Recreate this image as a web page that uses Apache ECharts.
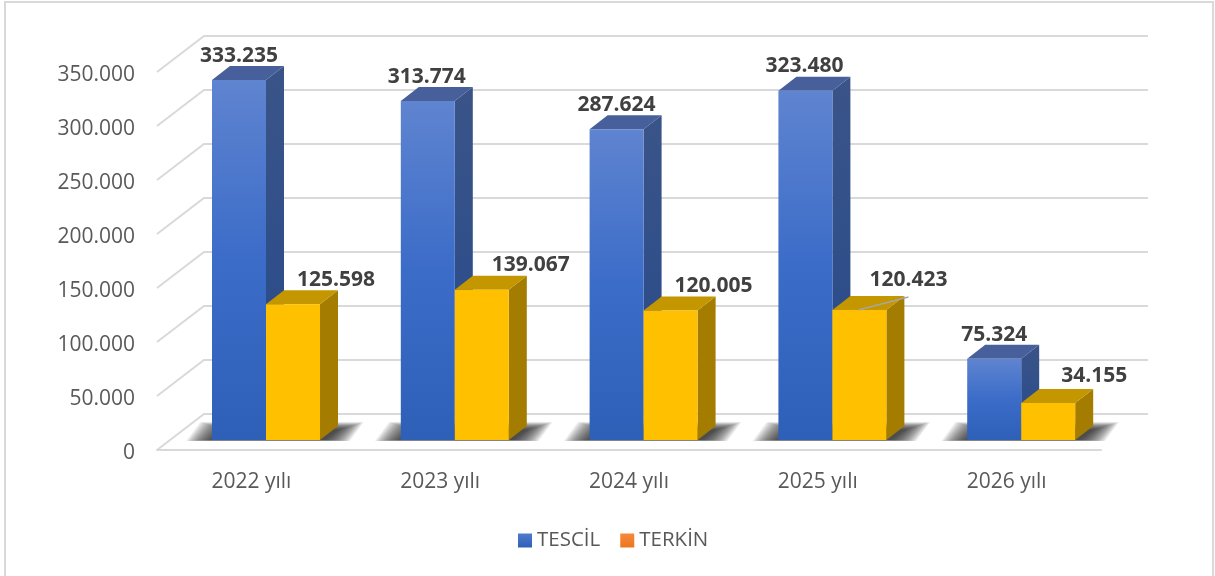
<!DOCTYPE html>
<html><head><meta charset="utf-8">
<style>html,body{margin:0;padding:0;background:#fff}#c{width:1215px;height:576px}</style>
<script src="https://cdn.jsdelivr.net/npm/echarts@6/dist/echarts.min.js"></script>
</head><body><div id="c"></div>
<script>
const categories = ['2022 yılı','2023 yılı','2024 yılı','2025 yılı','2026 yılı'];
const tescil = [333235,313774,287624,323480,75324];
const terkin = [125598,139067,120005,120423,34155];
const yTicks = [0,50000,100000,150000,200000,250000,300000,350000];

// label placement relative to the top-front centre of each bar
const tescilLabelShift = [[0,-25],[-1,-25],[0,-25],[-1,-26],[0,-25]];
const terkinLabelShift = [[43,-25],[49,-26],[43,-25],[49,-31],[46,-28]];
const terkinLeader = [false,false,false,true,false];

const FONT = '"Open Sans"';
const WALL = [47,-36], FRONT = [14.6,-10], DEPTH = [18,-14], BAR_RATIO = 0.286;
const SHADOW_LAYERS = 30;
const fmt = v => String(v).replace(/\B(?=(\d{3})+$)/g,'.');
const vgrad = stops => ({type:'linear',x:0,y:0,x2:0,y2:1,
  colorStops:stops.map((c,i)=>({offset:i/(stops.length-1),color:c}))});

const STYLES = {
  TESCİL:{front:vgrad(['#5F84D0','#3B6CC8','#2E60B8']),top:'#47609B',side:vgrad(['#3A5488','#264A8C'])},
  TERKİN:{front:'#FFC000',top:'#C49600',side:'#A37C00'}
};

function barRenderer(name, dir, shifts, leaders){
  const st = STYLES[name];
  return function(params, api){
    const i = api.value(0), v = api.value(1);
    const w = api.size([1,0])[0]*BAR_RATIO;
    const top = api.coord([i,v]), bot = api.coord([i,0]);
    const cx = top[0]+FRONT[0];
    const x0 = dir<0 ? cx-w : cx, x1 = x0+w;
    const yt = top[1]+FRONT[1], yb = bot[1]+FRONT[1];
    const dx = DEPTH[0], dy = DEPTH[1];
    const s = shifts[params.dataIndex];
    const mid = (x0+x1)/2;
    const children = [
      {type:'polygon',shape:{points:[[x1,yb],[x1+dx,yb+dy],[x1+dx,yt+dy],[x1,yt]]},style:{fill:st.side}},
      {type:'polygon',shape:{points:[[x0,yt],[x0+dx,yt+dy],[x1+dx,yt+dy],[x1,yt]]},style:{fill:st.top}},
      {type:'rect',shape:{x:x0,y:yt,width:w,height:yb-yt},style:{fill:st.front}},
    ];
    if(leaders && leaders[params.dataIndex]){
      children.push({type:'line',shape:{x1:mid-1,y1:yt,x2:mid+49,y2:yt-13},style:{stroke:'#A6A6A6',lineWidth:1.5}});
    }
    children.push({type:'text',z2:50,style:{text:fmt(v),x:mid+s[0],y:yt+s[1]+1,fill:'#404040',
      font:'bold 21px '+FONT,align:'center',verticalAlign:'middle'}});
    return {type:'group',children};
  };
}

const option = {
  animation:false,
  backgroundColor:'#fff',
  graphic:[{type:'rect',z:-10,shape:{x:5,y:2,width:1208,height:600},style:{fill:'none',stroke:'#D9D9D9',lineWidth:2}}],
  legend:{left:513,top:525,itemWidth:14,itemHeight:14,itemGap:20,
    textStyle:{fontFamily:FONT,fontSize:20.5,color:'#595959'},
    data:[{name:'TESCİL',icon:'rect',itemStyle:{color:vgrad(['#4F7BCB','#2E60B8'])}},
          {name:'TERKİN',icon:'rect',itemStyle:{color:vgrad(['#F58A3C','#EE7420'])}}]},
  grid:{left:157,right:114,top:72,bottom:126},
  xAxis:{type:'category',data:categories,
    axisLine:{lineStyle:{color:'#D9D9D9',width:2}},axisTick:{show:false},
    axisLabel:{fontFamily:FONT,fontSize:21,color:'#595959',margin:22}},
  yAxis:{type:'value',min:0,max:350000,interval:50000,
    axisLine:{show:false},axisTick:{show:false},splitLine:{show:false},
    axisLabel:{fontFamily:FONT,fontSize:21,color:'#595959',margin:22,verticalAlign:'top',lineHeight:7,formatter:v=>fmt(v)}},
  series:[
    {name:'walls',type:'custom',z:1,silent:true,encode:{x:0,y:1},
     data:yTicks.map(v=>[0,v]),
     renderItem(params,api){
       const y = api.coord([0,api.value(1)])[1], g = params.coordSys;
       return {type:'polyline',shape:{points:[[g.x,y],[g.x+WALL[0],y+WALL[1]],[g.x+g.width+WALL[0],y+WALL[1]]]},
         style:{fill:'none',stroke:'#D9D9D9',lineWidth:2}};
     }},
    {name:'floorShadow',type:'custom',z:2,silent:true,encode:{x:0,y:1},
     data:categories.map((c,i)=>[i,0]),
     renderItem(params,api){
       const b = api.coord([api.value(0),0]);
       const w = api.size([1,0])[0]*BAR_RATIO;
       const cx = b[0]+FRONT[0], yb = b[1]+FRONT[1];
       const children = [];
       for(let k=0;k<SHADOW_LAYERS;k++){
         const t = k/(SHADOW_LAYERS-1);       // 0 = widest soft edge, 1 = dark core
         const hx = 26-26*t, rise = 18-8*t, vy = 1*(1-t);
         children.push({type:'polygon',shape:{points:[
           [cx-w-hx,yb+vy],[cx-w-hx+14,yb-rise],[cx+w+18+hx,yb-rise],[cx+w+hx+4,yb+vy]]},
           style:{fill:'rgba(40,40,40,0.05)'}});
       }
       return {type:'group',children};
     }},
    {name:'TESCİL',type:'custom',z:3,encode:{x:0,y:1},
     data:tescil.map((v,i)=>[i,v]),itemStyle:{color:'#3B6CC8'},
     renderItem:barRenderer('TESCİL',-1,tescilLabelShift)},
    {name:'TERKİN',type:'custom',z:4,encode:{x:0,y:1},
     data:terkin.map((v,i)=>[i,v]),itemStyle:{color:'#FFC000'},
     renderItem:barRenderer('TERKİN',1,terkinLabelShift,terkinLeader)}
  ]
};
echarts.init(document.getElementById('c')).setOption(option);
</script></body></html>
